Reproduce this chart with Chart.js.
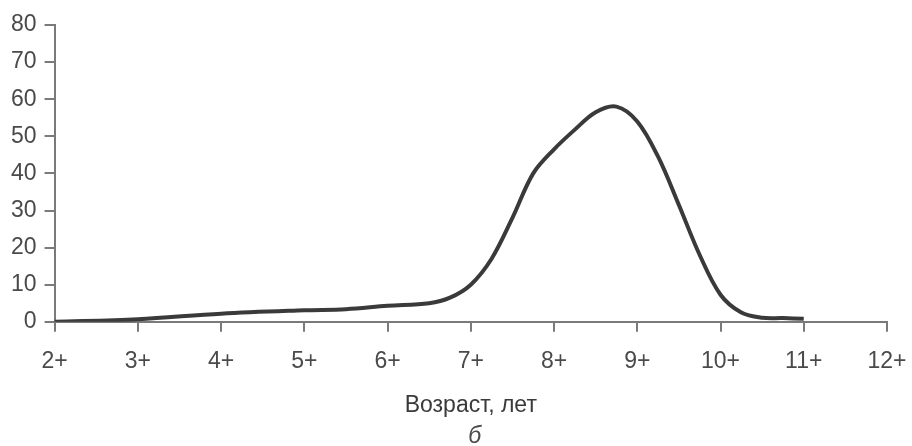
<!DOCTYPE html>
<html>
<head>
<meta charset="utf-8">
<script src="https://cdn.jsdelivr.net/npm/chart.js@4"></script>
<style>
html,body{margin:0;padding:0;background:#fff;}
#wrap{position:relative;width:912px;height:446px;}
</style>
</head>
<body>
<div id="wrap"><canvas id="c" width="912" height="446"></canvas></div>
<script>
const ageTickLabels = ['2+','3+','4+','5+','6+','7+','8+','9+','10+','11+','12+'];
const ages = [2,3,4,5,5.5,6,6.5,6.75,7,7.25,7.5,7.75,8,8.25,8.5,8.75,9,9.25,9.5,9.75,10,10.25,10.5,10.75,11];
const shares = [0,0.7,2.2,3.1,3.4,4.3,5.0,6.5,10,17,28,40,46.5,51.8,56.5,58,54,44.5,31.5,18,7.3,2.5,1.1,1,0.8];
const xTitle = 'Возраст, лет';
const panelLabel = 'б';

const axisColor = '#7a7a7a';
const textColor = '#4a4a4a';
const fontFamily = '"Liberation Sans", Arial, sans-serif';
const fontSize = 23;

const panelPlugin = {
  id: 'panelLabel',
  afterDraw(chart) {
    const ctx = chart.ctx;
    const a = chart.chartArea;
    ctx.save();
    ctx.font = 'italic ' + fontSize + 'px ' + fontFamily;
    ctx.fillStyle = textColor;
    ctx.textAlign = 'center';
    ctx.textBaseline = 'alphabetic';
    ctx.fillText(panelLabel, (a.left + a.right) / 2 + 4, 443);
    ctx.restore();
  }
};

new Chart(document.getElementById('c'), {
  type: 'line',
  data: {
    datasets: [{
      data: ages.map((a, i) => ({x: a, y: shares[i]})),
      borderColor: '#3a3a3a',
      borderWidth: 4,
      pointRadius: 0,
      fill: false,
      tension: 0.35
    }]
  },
  options: {
    responsive: false,
    animation: false,
    layout: {padding: {left: 3, right: 2, top: 25, bottom: 27}},
    plugins: {legend: {display: false}, tooltip: {enabled: false}},
    scales: {
      x: {
        type: 'linear',
        min: 2, max: 12,
        afterFit: (scale) => { scale.paddingRight = 25; scale.paddingLeft = 20; },
        ticks: {
          stepSize: 1,
          color: textColor,
          font: {family: fontFamily, size: fontSize},
          padding: 16,
          maxRotation: 0,
          callback: (v) => ageTickLabels[Math.round(v) - 2]
        },
        grid: {drawOnChartArea: false, drawTicks: true, tickLength: 10, color: axisColor, lineWidth: 2},
        border: {display: true, color: axisColor, width: 2},
        title: {display: true, text: xTitle, color: '#3a3a3a', font: {family: fontFamily, size: fontSize}, padding: {top: 0, bottom: 0}}
      },
      y: {
        min: 0, max: 80,
        ticks: {
          stepSize: 10,
          color: textColor,
          font: {family: fontFamily, size: fontSize},
          padding: 8
        },
        grid: {drawOnChartArea: false, drawTicks: true, tickLength: 10, color: axisColor, lineWidth: 2},
        border: {display: true, color: axisColor, width: 2}
      }
    }
  },
  plugins: [panelPlugin]
});
</script>
</body>
</html>
